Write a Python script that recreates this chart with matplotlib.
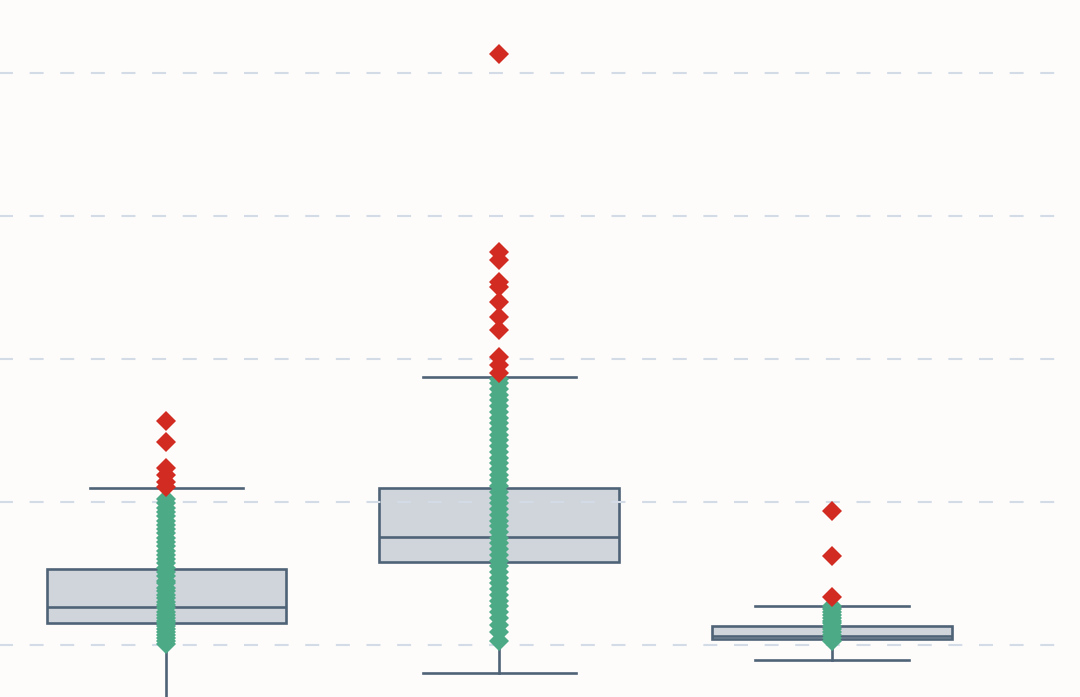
import matplotlib
matplotlib.use("Agg")
import matplotlib.pyplot as plt

# ---- data ----
positions = [0, 1, 2]
q1 = [1.54, 5.80, 0.40]
med = [2.66, 7.55, 0.62]
q3 = [5.31, 10.98, 1.30]
whislo = [-4.12, -1.97, -1.05]
whishi = [10.97, 18.75, 2.73]

inliers_1 = [0.1, 0.3, 0.5, 0.7, 0.9, 1.1, 1.3, 1.5, 1.7, 1.9, 2.1, 2.3, 2.6, 2.8,
             3.0, 3.3, 3.5, 3.8, 4.0, 4.3, 4.5, 4.8, 5.1, 5.4, 5.7, 6.0, 6.3, 6.6,
             6.9, 7.2, 7.5, 7.8, 8.1, 8.4, 8.7, 9.0, 9.3, 9.6, 9.9, 10.2]
inliers_2 = [0.3, 0.9, 1.4, 1.9, 2.3, 2.7, 3.1, 3.5, 3.9, 4.3, 4.7, 5.1, 5.5, 5.9,
             6.3, 6.7, 7.1, 7.5, 7.9, 8.3, 8.7, 9.1, 9.5, 9.9, 10.3, 10.7, 11.1,
             11.5, 11.9, 12.3, 12.7, 13.1, 13.5, 13.9, 14.3, 14.7, 15.1, 15.5,
             15.9, 16.3, 16.7, 17.1, 17.5, 17.9, 18.3, 18.6]
inliers_3 = [0.3, 0.5, 0.7, 0.9, 1.1, 1.3, 1.5, 1.7, 1.9, 2.1, 2.3, 2.5, 2.7]

outliers_1 = [15.66, 14.2, 12.38, 11.89, 11.4, 11.05]
outliers_2 = [41.33, 27.48, 26.92, 25.38, 25.03, 23.99, 22.94, 22.03, 20.14, 19.58, 19.02]
outliers_3 = [9.37, 6.22, 3.36]

grid_values = [0, 10, 20, 30, 40]

inliers = [inliers_1, inliers_2, inliers_3]
outliers = [outliers_1, outliers_2, outliers_3]

# ---- style ----
bg = "#fdfcfb"
edge = "#4f6377"
fill = "#cfd5db"
green = "#4caa86"
red = "#d22b22"
gridc = "#d3dbe6"

fig = plt.figure(figsize=(10.8, 6.97), dpi=100, facecolor=bg)
ax = fig.add_axes([0, 0, 1065 / 1080, 1])
ax.set_facecolor(bg)

stats = []
for i in range(3):
    stats.append(dict(q1=q1[i], med=med[i], q3=q3[i], whislo=whislo[i],
                      whishi=whishi[i], fliers=[], label=""))

lw = 1.9
ax.bxp(stats, positions=positions, widths=0.72, capwidths=0.46,
       patch_artist=True, showfliers=False,
       boxprops=dict(facecolor=fill, edgecolor=edge, linewidth=lw, zorder=1),
       medianprops=dict(color=edge, linewidth=lw, zorder=2),
       whiskerprops=dict(color=edge, linewidth=lw, zorder=2),
       capprops=dict(color=edge, linewidth=lw, zorder=2))

period_units = 31 / 333.0
for y in grid_values:
    ax.plot([-0.5 - period_units, 2.70], [y, y], color=gridc, linewidth=1.5,
            linestyle=(0, (6.7, 8)), zorder=1.5, solid_capstyle="butt")

ms = 10.5
for p, vals in zip(positions, inliers):
    ax.plot([p] * len(vals), vals, linestyle="none", marker="D", markersize=ms,
            color=green, markeredgewidth=0, zorder=3)
for p, vals in zip(positions, outliers):
    ax.plot([p] * len(vals), vals, linestyle="none", marker="D", markersize=ms,
            color=red, markeredgewidth=0, zorder=3)

ax.set_xlim(-0.5, 2.70)
ax.set_ylim(-3.64, 45.1)
ax.axis("off")

fig.savefig("out.png", dpi=100, facecolor=bg)
